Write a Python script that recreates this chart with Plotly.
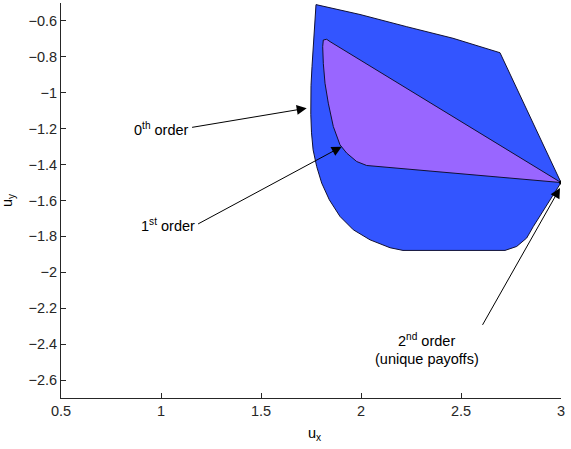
import plotly.graph_objects as go

# Outer region (0th order)
outer_x = [1.775, 1.995, 2.2285, 2.46, 2.695, 3.0, 2.8615, 2.8285, 2.7785, 2.72, 2.21, 2.145,
           2.045, 1.9615, 1.895, 1.8415, 1.8035, 1.7785, 1.7605, 1.7525, 1.749, 1.7485, 1.750,
           1.755, 1.765, 1.775]
outer_y = [-0.509, -0.564, -0.632, -0.6965, -0.777, -1.5, -1.745, -1.809, -1.856, -1.878, -1.878, -1.863,
           -1.819, -1.763, -1.689, -1.596, -1.503, -1.411, -1.318, -1.223, -1.12, -1.04, -0.96,
           -0.854, -0.669, -0.509]

# Inner region (1st order)
inner_x = [1.8285, 1.845, 3.0, 2.145, 2.0285, 1.9785, 1.9285, 1.895, 1.8615, 1.8365, 1.82,
           1.8115, 1.8085, 1.8115, 1.8285]
inner_y = [-0.702, -0.715, -1.5, -1.414, -1.405, -1.383, -1.336, -1.290, -1.188, -1.058, -0.947,
           -0.836, -0.743, -0.706, -0.702]

# 2nd order point
pt_x = [3.0]
pt_y = [-1.5]

x_ticks = [0.5, 1, 1.5, 2, 2.5, 3]
y_ticks = [-2.6, -2.4, -2.2, -2.0, -1.8, -1.6, -1.4, -1.2, -1.0, -0.8, -0.6]
y_tick_labels = ["−2.6", "−2.4", "−2.2", "−2", "−1.8", "−1.6", "−1.4", "−1.2", "−1", "−0.8", "−0.6"]

FONT = "Liberation Sans, Arial, sans-serif"
FS = 14.5

fig = go.Figure()
fig.add_trace(go.Scatter(x=outer_x, y=outer_y, mode="lines", fill="toself",
                         fillcolor="#3355ff", line=dict(color="#111133", width=1),
                         hoverinfo="skip", showlegend=False))
fig.add_trace(go.Scatter(x=inner_x, y=inner_y, mode="lines", fill="toself",
                         fillcolor="#9966ff", line=dict(color="#111133", width=1),
                         hoverinfo="skip", showlegend=False))
fig.add_trace(go.Scatter(x=pt_x, y=pt_y, mode="markers",
                         marker=dict(color="black", size=4), hoverinfo="skip", showlegend=False))

arrow = dict(showarrow=True, arrowhead=2, arrowsize=2, arrowwidth=1, arrowcolor="black",
             xref="x", yref="y", axref="x", ayref="y", text="")
txt = dict(showarrow=False, xanchor="center", yanchor="middle",
           font=dict(family=FONT, size=FS, color="black"))
# 0th order
fig.add_annotation(x=1.7285, y=-1.086, ax=1.148, ay=-1.194, **arrow)
fig.add_annotation(x=1.0, y=-1.20, text="0<sup>th</sup> order", **txt)
# 1st order
fig.add_annotation(x=1.9035, y=-1.300, ax=1.178, ay=-1.735, **arrow)
fig.add_annotation(x=1.035, y=-1.738, text="1<sup>st</sup> order", **txt)
# 2nd order
fig.add_annotation(x=2.995, y=-1.531, ax=2.6035, ay=-2.301, **arrow)
fig.add_annotation(x=2.3285, y=-2.375, text="2<sup>nd</sup> order", **txt)
fig.add_annotation(x=2.3285, y=-2.483, text="(unique payoffs)", **txt)

# axis titles
fig.add_annotation(xref="paper", yref="paper", x=(8 - 61) / 500, y=(398 - 200) / 395,
                   text="u<sub>y</sub>", showarrow=False, textangle=-90,
                   xanchor="center", yanchor="middle", font=dict(family=FONT, size=FS, color="black"))
fig.add_annotation(xref="paper", yref="paper", x=(314 - 61) / 500, y=(398 - 434) / 395,
                   text="u<sub>x</sub>", showarrow=False,
                   xanchor="center", yanchor="middle", font=dict(family=FONT, size=FS, color="black"))

axis_common = dict(showgrid=False, zeroline=False, showline=True, linecolor="#262626", linewidth=1,
                   ticks="inside", ticklen=5, tickcolor="#262626", mirror=False,
                   tickfont=dict(family=FONT, size=FS, color="#262626"))
fig.update_xaxes(range=[0.5, 3], tickvals=x_ticks, ticktext=[str(v) for v in x_ticks], **axis_common)
fig.update_yaxes(range=[-2.7, -0.5], tickvals=y_ticks, ticktext=y_tick_labels, **axis_common)

fig.update_layout(width=571, height=449, margin=dict(l=61, r=10, t=3, b=51),
                  plot_bgcolor="white", paper_bgcolor="white",
                  font=dict(family=FONT, size=FS, color="#262626"))

fig.write_html("out.html")
